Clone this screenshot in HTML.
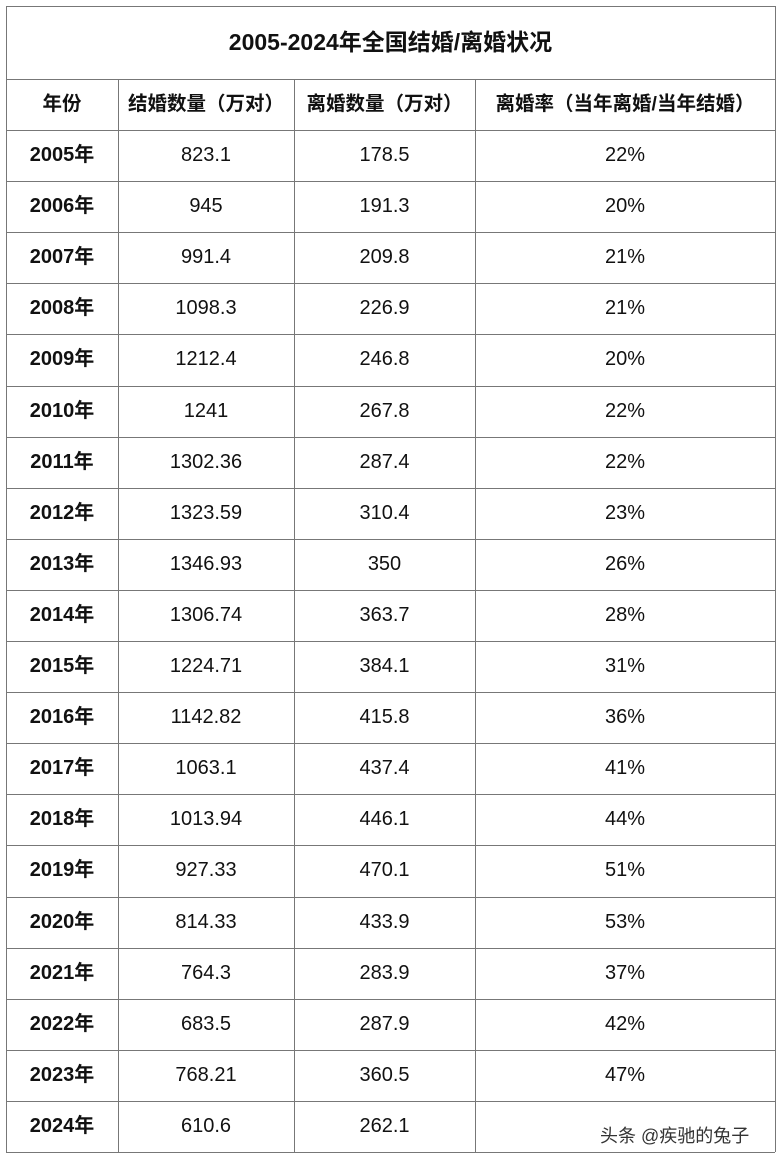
<!DOCTYPE html>
<html><head><meta charset="utf-8"><style>
body{margin:0;width:780px;height:1160px;background:#fff;position:relative;overflow:hidden;font-family:"Liberation Sans","Noto Sans CJK SC",sans-serif;color:#111}
.h{position:absolute;height:0;border-top:1.5px solid #777}
.v{position:absolute;width:0;border-left:1.5px solid #777}
.t{position:absolute;text-align:center;white-space:nowrap}
</style></head><body>
<div id="g"></div>
<script>
var g=document.getElementById('g'),h='';
var X=[6,118,294,475,775];
var rows=[["2005","823.1","178.5","22%"],["2006","945","191.3","20%"],["2007","991.4","209.8","21%"],["2008","1098.3","226.9","21%"],["2009","1212.4","246.8","20%"],["2010","1241","267.8","22%"],["2011","1302.36","287.4","22%"],["2012","1323.59","310.4","23%"],["2013","1346.93","350","26%"],["2014","1306.74","363.7","28%"],["2015","1224.71","384.1","31%"],["2016","1142.82","415.8","36%"],["2017","1063.1","437.4","41%"],["2018","1013.94","446.1","44%"],["2019","927.33","470.1","51%"],["2020","814.33","433.9","53%"],["2021","764.3","283.9","37%"],["2022","683.5","287.9","42%"],["2023","768.21","360.5","47%"],["2024","610.6","262.1",""]];
var Y=[6,79,130];for(var i=1;i<=20;i++)Y.push(130+i*51.1);
Y.forEach(function(y){h+='<div class="h" style="left:6px;width:769px;top:'+y+'px"></div>'});
X.forEach(function(x,i){var t=(i==0||i==4)?6:79;h+='<div class="v" style="left:'+x+'px;top:'+t+'px;height:'+(1152-t)+'px"></div>'});
h+='<div class="t" style="left:6px;width:769px;top:6px;height:73px;line-height:73px;font-weight:bold;font-size:23px">2005-2024年全国结婚/离婚状况</div>';
var hd=["年份","结婚数量（万对）","离婚数量（万对）","离婚率（当年离婚/当年结婚）"];
for(var c=0;c<4;c++)h+='<div class="t" style="left:'+X[c]+'px;width:'+(X[c+1]-X[c])+'px;top:79px;height:51px;line-height:51px;font-weight:bold;font-size:19.5px">'+hd[c]+'</div>';
rows.forEach(function(r,i){for(var c=0;c<4;c++){var txt=c==0?r[0]+'年':r[c];h+='<div class="t" style="left:'+X[c]+'px;width:'+(X[c+1]-X[c])+'px;top:'+Y[i+2]+'px;height:51px;line-height:51px;font-size:20px;'+(c==0?'font-weight:bold;':'')+'">'+txt+'</div>';}});
h+='<div style="position:absolute;left:600px;top:1122px;font-size:18px;color:#333">头条 @疾驰的兔子</div>';
g.innerHTML=h;
</script>
</body></html>
